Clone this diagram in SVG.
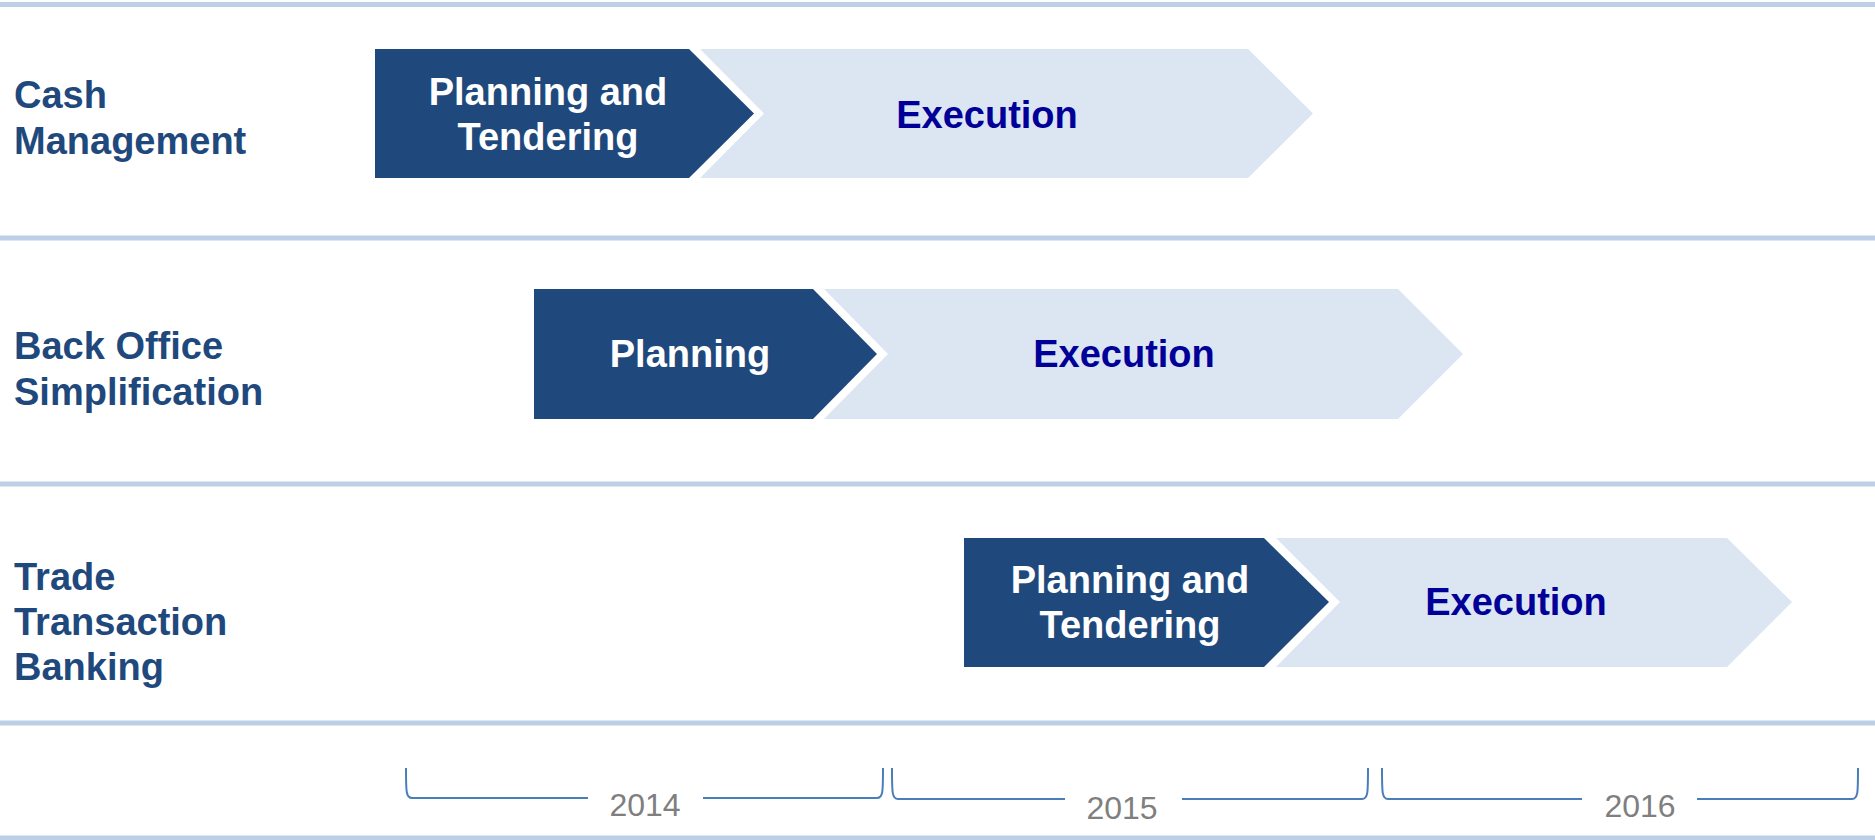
<svg xmlns="http://www.w3.org/2000/svg" width="1875" height="840" viewBox="0 0 1875 840">
<style>
.sep{stroke:#bccfe6;stroke-width:5;fill:none}
.lbl{font-family:"Liberation Sans",Arial,sans-serif;font-weight:bold;font-size:38px;fill:#1f497d}
.dark{fill:#1f497d}
.light{fill:#dce6f2}
.wt{font-family:"Liberation Sans",Arial,sans-serif;font-weight:bold;font-size:38px;fill:#ffffff;text-anchor:middle}
.ex{font-family:"Liberation Sans",Arial,sans-serif;font-weight:bold;font-size:38px;fill:#000099;text-anchor:middle}
.br{stroke:#4a7ebb;stroke-width:2;fill:none}
.yr{font-family:"Liberation Sans",Arial,sans-serif;font-size:32px;fill:#7f7f7f;text-anchor:middle}
</style>
<rect width="1875" height="840" fill="#ffffff"/>
<g id="separators">
<line class="sep" x1="0" y1="4.5" x2="1875" y2="4.5"/>
<line class="sep" x1="0" y1="238" x2="1875" y2="238"/>
<line class="sep" x1="0" y1="484" x2="1875" y2="484"/>
<line class="sep" x1="0" y1="723" x2="1875" y2="723"/>
<line class="sep" x1="0" y1="838" x2="1875" y2="838"/>
</g>
<g id="row-cash">
<text class="lbl" x="14" y="108">Cash</text>
<text class="lbl" x="14" y="154">Management</text>
</g>
<g id="cash-execution">
<polygon class="light" points="700,49 1248,49 1313,113.5 1248,178 700,178 764,113.5"/>
<text class="ex" x="987" y="128">Execution</text>
</g>
<g id="cash-planning">
<polygon class="dark" points="375,49 689,49 754,113.5 689,178 375,178"/>
<text class="wt" x="548" y="105">Planning and</text>
<text class="wt" x="548" y="150">Tendering</text>
</g>
<g id="row-backoffice">
<text class="lbl" x="14" y="359">Back Office</text>
<text class="lbl" x="14" y="405">Simplification</text>
</g>
<g id="bo-execution">
<polygon class="light" points="824,289 1398,289 1463,354 1398,419 824,419 888,354"/>
<text class="ex" x="1124" y="367">Execution</text>
</g>
<g id="bo-planning">
<polygon class="dark" points="534,289 813,289 877,354 813,419 534,419"/>
<text class="wt" x="690" y="367">Planning</text>
</g>
<g id="row-trade">
<text class="lbl" x="14" y="590">Trade</text>
<text class="lbl" x="14" y="635">Transaction</text>
<text class="lbl" x="14" y="680">Banking</text>
</g>
<g id="trade-execution">
<polygon class="light" points="1276,538 1727,538 1792,602 1727,667 1276,667 1340,602"/>
<text class="ex" x="1516" y="615">Execution</text>
</g>
<g id="trade-planning">
<polygon class="dark" points="964,538 1264,538 1329,602 1264,667 964,667"/>
<text class="wt" x="1130" y="593">Planning and</text>
<text class="wt" x="1130" y="638">Tendering</text>
</g>
<g id="timeline">
<path class="br" d="M406,768 C406,792 406,798 412,798 L588,798 M703,798 L877,798 C883,798 883,792 883,768"/>
<text class="yr" x="645" y="816">2014</text>
<path class="br" d="M892,768 C892,793 892,799 898,799 L1065,799 M1182,799 L1362,799 C1368,799 1368,793 1368,768"/>
<text class="yr" x="1122" y="819">2015</text>
<path class="br" d="M1382,768 C1382,793 1382,799 1388,799 L1582,799 M1697,799 L1852,799 C1858,799 1858,793 1858,768"/>
<text class="yr" x="1640" y="817">2016</text>
</g>
</svg>
